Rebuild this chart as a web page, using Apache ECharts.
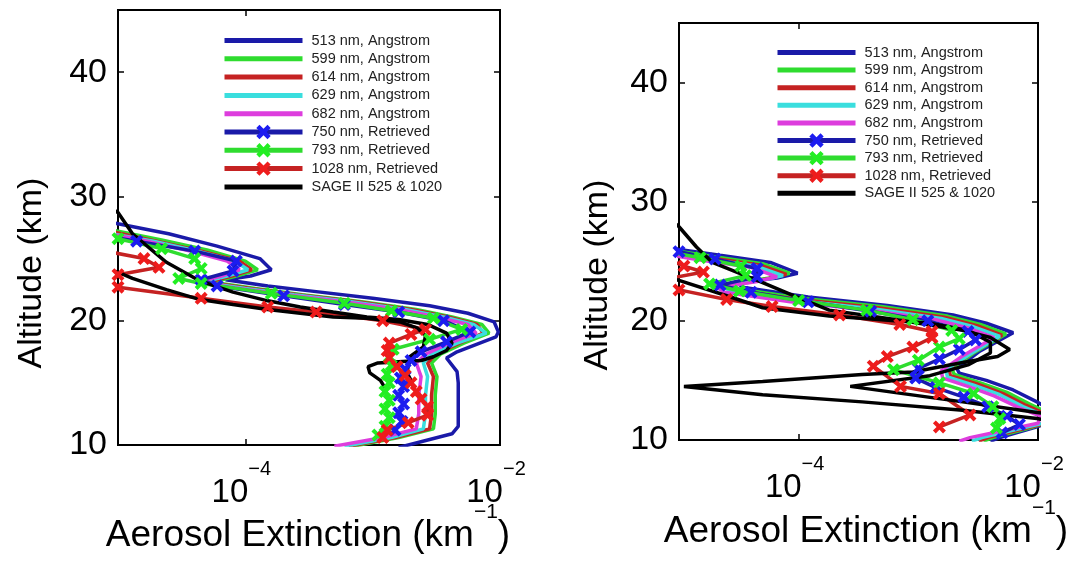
<!DOCTYPE html>
<html>
<head>
<meta charset="utf-8">
<script src="https://cdn.jsdelivr.net/npm/echarts@6/dist/echarts.min.js"></script>
<style>
  html, body { margin: 0; padding: 0; background: #fff; }
  #chart { width: 1072px; height: 565px; }
</style>
</head>
<body>
<div id="chart"></div>
<script>
// Aerosol extinction profiles: [extinction (km^-1), altitude (km)], ordered by altitude.

// ---- Left panel ----
const L513 = [[1.6e-3,9.8],[4.2e-3,10.9],[4.7e-3,11.5],[4.7e-3,13.0],[4.7e-3,15.0],[4.6e-3,15.9],[3.8e-3,17.0],[4.6e-3,17.5],[9.3e-3,18.7],[9.7e-3,19.1],[9.0e-3,19.9],[5.6e-3,20.6],[2.8e-3,21.2],[1.0e-3,21.8],[3.2e-4,22.4],[1.5e-4,22.8],[7.0e-5,23.3],[1.1e-4,23.6],[1.6e-4,24.1],[1.3e-4,25.0],[6.0e-5,26.0],[2.5e-5,27.0],[1.0e-5,27.8],[7e-6,28.1]];
const L599 = [[7.0e-4,9.9],[1.6e-3,10.6],[3.0e-3,11.3],[3.1e-3,12.5],[3.1e-3,14.0],[3.2e-3,15.5],[2.9e-3,16.6],[3.4e-3,17.3],[5.2e-3,18.2],[8.2e-3,19.0],[7.2e-3,19.7],[4.2e-3,20.3],[2.2e-3,20.9],[8.5e-4,21.5],[2.8e-4,22.1],[1.2e-4,22.6],[5.5e-5,23.1],[8.5e-5,23.6],[1.25e-4,24.1],[1.0e-4,24.8],[5.0e-5,25.7],[2.2e-5,26.5],[1.0e-5,27.2],[7e-6,27.5]];
const L614 = [[6.5e-4,9.9],[1.5e-3,10.6],[2.8e-3,11.3],[2.9e-3,12.5],[2.9e-3,14.0],[3.0e-3,15.5],[2.7e-3,16.6],[3.1e-3,17.3],[4.8e-3,18.2],[7.4e-3,19.0],[6.6e-3,19.7],[3.9e-3,20.3],[2.0e-3,20.9],[7.8e-4,21.5],[2.6e-4,22.1],[1.1e-4,22.6],[5.0e-5,23.1],[7.8e-5,23.6],[1.12e-4,24.1],[9.0e-5,24.8],[4.5e-5,25.6],[2.0e-5,26.4],[9.5e-6,27.1]];
const L629 = [[6.0e-4,9.9],[1.4e-3,10.6],[2.5e-3,11.3],[2.6e-3,12.5],[2.6e-3,14.0],[2.7e-3,15.5],[2.5e-3,16.6],[2.9e-3,17.3],[4.6e-3,18.2],[7.8e-3,19.0],[6.2e-3,19.7],[3.6e-3,20.3],[1.8e-3,20.9],[7.0e-4,21.5],[2.4e-4,22.1],[1.0e-4,22.6],[4.6e-5,23.1],[7.2e-5,23.6],[1.05e-4,24.1],[8.3e-5,24.8],[4.2e-5,25.6],[1.9e-5,26.4],[9e-6,27.0]];
const L682 = [[5.0e-4,9.9],[1.2e-3,10.6],[2.2e-3,11.3],[2.3e-3,12.5],[2.3e-3,14.0],[2.4e-3,15.5],[2.2e-3,16.6],[2.6e-3,17.3],[4.0e-3,18.2],[6.5e-3,19.0],[5.6e-3,19.7],[3.2e-3,20.3],[1.6e-3,20.9],[6.2e-4,21.5],[2.1e-4,22.1],[9.0e-5,22.6],[4.2e-5,23.1],[6.5e-5,23.6],[9.0e-5,24.1],[7.2e-5,24.8],[3.7e-5,25.6],[1.7e-5,26.4],[8.5e-6,27.0]];
const L750 = [[1.5e-3,11.2],[1.7e-3,11.9],[1.6e-3,12.6],[1.75e-3,13.3],[1.6e-3,14.0],[1.75e-3,14.7],[1.65e-3,15.4],[1.8e-3,16.1],[2.0e-3,16.8],[2.4e-3,17.5],[3.8e-3,18.3],[5.8e-3,19.1],[3.6e-3,20.0],[1.6e-3,20.7],[6.0e-4,21.3],[2.0e-4,22.0],[6.0e-5,22.8],[4.5e-5,23.3],[8.0e-5,24.0],[8.5e-5,24.8],[4.0e-5,25.6],[1.4e-5,26.4],[8e-6,26.8]];
const L793 = [[1.1e-3,10.8],[1.25e-3,11.5],[1.35e-3,12.2],[1.25e-3,12.9],[1.35e-3,13.6],[1.25e-3,14.3],[1.35e-3,15.0],[1.3e-3,15.7],[1.4e-3,16.4],[1.35e-3,17.1],[1.45e-3,17.7],[2.8e-3,18.5],[5.0e-3,19.3],[3.0e-3,20.2],[1.4e-3,20.8],[6.0e-4,21.4],[1.6e-4,22.2],[4.5e-5,23.0],[3.0e-5,23.4],[4.5e-5,24.2],[4.0e-5,25.0],[2.2e-5,25.8],[1.0e-5,26.6]];
const L1028 = [[1.2e-3,10.6],[1.3e-3,11.2],[1.9e-3,11.8],[2.7e-3,12.4],[2.7e-3,13.1],[2.4e-3,13.7],[2.2e-3,14.3],[2.0e-3,15.0],[1.8e-3,15.6],[1.55e-3,16.3],[1.35e-3,17.0],[1.3e-3,17.6],[1.35e-3,18.2],[2.0e-3,18.9],[2.6e-3,19.3],[1.2e-3,20.0],[3.6e-4,20.7],[1.5e-4,21.1],[4.5e-5,21.8],[1.0e-5,22.7],[6e-6,23.2],[1.0e-5,23.7],[2.1e-5,24.3],[1.6e-5,25.0],[9e-6,25.5]];
const LSageA = [[1.25e-3,14.6],[1.15e-3,15.2],[9.5e-4,15.8],[9.2e-4,16.3],[1.1e-3,16.6],[1.6e-3,16.7],[2.4e-3,16.8],[3.0e-3,17.1],[3.8e-3,17.6],[4.2e-3,18.2],[3.8e-3,19.0],[2.7e-3,19.7],[1.6e-3,20.1],[9.0e-4,20.3],[4.9e-4,20.7],[2.7e-4,21.1],[1.5e-4,21.6],[8.0e-5,22.3],[4.4e-5,23.2],[2.4e-5,24.7],[1.3e-5,27.0],[1.0e-5,28.7],[9e-6,29.0]];
const LSageB = [[2.05e-3,15.0],[1.86e-3,15.8],[1.96e-3,17.1],[2.5e-3,17.9],[2.6e-3,18.8],[2.25e-3,19.4],[1.64e-3,19.9],[9.0e-4,20.2],[4.9e-4,20.3],[2.7e-4,20.6],[1.5e-4,20.9],[8.0e-5,21.3],[4.4e-5,21.7],[2.4e-5,22.5],[1.3e-5,23.4],[1.0e-5,23.9],[8e-6,24.2]];

// ---- Right panel ----
const R513 = [[4.0e-3,9.9],[4.8e-3,10.2],[9.8e-3,11.1],[1.3e-2,11.6],[1.3e-2,12.5],[9.8e-3,13.2],[6.2e-3,14.2],[3.7e-3,15.0],[2.2e-3,15.6],[2.1e-3,16.0],[3.2e-3,17.4],[6.2e-3,19.0],[3.7e-3,19.8],[1.95e-3,20.5],[5.5e-4,21.3],[1.2e-4,22.0],[3.5e-5,22.8],[3.0e-5,23.2],[6.6e-5,23.6],[9.8e-5,24.0],[5.8e-5,24.9],[2.2e-5,25.5],[1.0e-5,26.0],[7e-6,26.3]];
const R599 = [[3.5e-3,9.9],[4.2e-3,10.2],[8.5e-3,11.0],[1.2e-2,11.5],[1.2e-2,12.3],[8.6e-3,13.0],[5.5e-3,14.0],[3.3e-3,14.8],[2.0e-3,15.5],[1.9e-3,16.0],[2.9e-3,17.3],[5.4e-3,18.9],[3.3e-3,19.7],[1.75e-3,20.4],[4.9e-4,21.2],[1.05e-4,21.9],[3.1e-5,22.7],[2.7e-5,23.1],[5.7e-5,23.6],[8.4e-5,24.0],[5.0e-5,24.8],[1.9e-5,25.4],[9e-6,25.9]];
const R614 = [[3.2e-3,9.9],[3.8e-3,10.2],[8.0e-3,11.0],[1.15e-2,11.4],[1.15e-2,12.2],[8.0e-3,12.9],[5.1e-3,13.9],[3.1e-3,14.7],[1.85e-3,15.4],[1.8e-3,16.0],[2.7e-3,17.2],[5.0e-3,18.8],[3.1e-3,19.6],[1.65e-3,20.3],[4.6e-4,21.1],[1.0e-4,21.8],[2.9e-5,22.6],[2.5e-5,23.0],[5.3e-5,23.5],[7.9e-5,23.9],[4.7e-5,24.7],[1.8e-5,25.3],[8.5e-6,25.8]];
const R629 = [[2.8e-3,9.9],[3.4e-3,10.2],[7.4e-3,11.0],[1.1e-2,11.4],[1.1e-2,12.1],[7.5e-3,12.8],[4.8e-3,13.8],[2.9e-3,14.6],[1.75e-3,15.3],[1.7e-3,15.9],[2.6e-3,17.1],[4.8e-3,18.7],[2.9e-3,19.5],[1.55e-3,20.2],[4.3e-4,21.0],[9.5e-5,21.7],[2.7e-5,22.5],[2.3e-5,22.9],[5.0e-5,23.4],[7.4e-5,23.8],[4.4e-5,24.6],[1.7e-5,25.2],[8e-6,25.7]];
const R682 = [[2.2e-3,9.9],[2.7e-3,10.2],[6.5e-3,11.0],[1.0e-2,11.4],[1.05e-2,12.0],[7.0e-3,12.7],[4.3e-3,13.7],[2.6e-3,14.5],[1.6e-3,15.2],[1.55e-3,15.8],[2.3e-3,17.0],[4.3e-3,18.6],[2.6e-3,19.4],[1.4e-3,20.1],[3.9e-4,20.9],[8.5e-5,21.6],[2.4e-5,22.4],[2.1e-5,22.8],[4.5e-5,23.3],[6.6e-5,23.7],[4.0e-5,24.5],[1.5e-5,25.1],[7.5e-6,25.6]];
const R750 = [[5.0e-3,10.6],[7.0e-3,11.3],[5.5e-3,12.0],[3.8e-3,12.8],[2.4e-3,13.6],[1.4e-3,14.4],[9.5e-4,15.2],[1.0e-3,16.0],[1.5e-3,16.8],[2.2e-3,17.6],[3.0e-3,18.4],[2.6e-3,19.1],[1.2e-3,20.0],[4.0e-4,20.8],[1.2e-4,21.6],[4.0e-5,22.4],[2.2e-5,23.0],[4.5e-5,23.7],[4.5e-5,24.4],[2.0e-5,25.2],[1.0e-5,25.8]];
const R793 = [[4.5e-3,11.0],[4.8e-3,11.8],[4.2e-3,12.8],[2.9e-3,13.9],[1.5e-3,14.8],[6.2e-4,15.9],[1.0e-3,16.7],[1.5e-3,17.8],[2.2e-3,18.5],[1.9e-3,19.2],[9.0e-4,20.1],[3.7e-4,20.9],[1.0e-4,21.7],[3.2e-5,22.5],[1.8e-5,23.1],[3.6e-5,23.8],[3.3e-5,24.6],[1.5e-5,25.3],[8e-6,25.8]];
const R1028 = [[1.5e-3,11.1],[2.7e-3,12.1],[1.5e-3,13.9],[7.1e-4,14.5],[4.2e-4,16.2],[5.5e-4,17.0],[9.0e-4,17.8],[1.3e-3,18.6],[1.3e-3,19.1],[7.0e-4,19.7],[2.2e-4,20.5],[6.0e-5,21.2],[2.5e-5,21.8],[1.0e-5,22.6],[6e-6,23.3],[1.6e-5,24.1],[1.1e-5,24.6],[8e-6,25.2]];
const RSageA = [[1.3e-2,11.6],[9.8e-3,11.8],[2.35e-3,12.5],[3.4e-4,13.2],[5.0e-5,13.8],[1.1e-5,14.5],[5.0e-5,14.9],[3.4e-4,15.5],[9.0e-4,15.7],[2.35e-3,16.5],[4.6e-3,17.0],[5.8e-3,17.6],[4.0e-3,18.6],[2.35e-3,19.2],[6.6e-4,20.1],[1.8e-4,20.9],[9.7e-5,22.0],[5.0e-5,23.2],[1.9e-5,24.9],[1.4e-5,26.2],[1.0e-5,27.9],[9e-6,28.3]];
const RSageB = [[1.3e-2,12.2],[9.8e-3,12.3],[2.35e-3,13.2],[2.7e-4,14.5],[1.25e-3,15.4],[2.6e-3,16.3],[4.0e-3,17.3],[4.0e-3,18.2],[2.6e-3,19.2],[1.25e-3,19.8],[1.8e-4,20.4],[5.0e-5,21.1],[2.7e-5,22.0],[1.0e-5,23.4],[7e-6,23.8]];

// ---- Labels ----
const seriesNames = ['513 nm, Angstrom','599 nm, Angstrom','614 nm, Angstrom','629 nm, Angstrom','682 nm, Angstrom','750 nm, Retrieved','793 nm, Retrieved','1028 nm, Retrieved','SAGE II 525 & 1020'];
const altitudeTicks = [10, 20, 30, 40];
const extinctionTicks = [1e-4, 1e-2];
const xTitle = 'Aerosol Extinction (km';
const yTitle = 'Altitude (km)';

const FONT = "'Liberation Sans', Arial, Helvetica, sans-serif";
const X_PATH = 'path://M0,2.2 L2.2,0 L5,2.8 L7.8,0 L10,2.2 L7.2,5 L10,7.8 L7.8,10 L5,7.2 L2.2,10 L0,7.8 L2.8,5 Z';

// name -> [line colour, marker colour or null]
const styles = {
  '513 nm, Angstrom':   ['#1a1aa8', null],
  '599 nm, Angstrom':   ['#2fdc2f', null],
  '614 nm, Angstrom':   ['#c52222', null],
  '629 nm, Angstrom':   ['#3adede', null],
  '682 nm, Angstrom':   ['#dd3ddd', null],
  '750 nm, Retrieved':  ['#1a1aa8', '#1c1cf0'],
  '793 nm, Retrieved':  ['#2fdc2f', '#22ee22'],
  '1028 nm, Retrieved': ['#c52222', '#ee1c1c'],
  'SAGE II 525 & 1020': ['#000000', null]
};

function makeSeries(name, data, gi) {
  const st = styles[name];
  const s = {
    type: 'line', name: name, data: data,
    xAxisIndex: gi * 2, yAxisIndex: gi * 2,
    clip: true, animation: false, silent: true,
    lineStyle: { color: st[0], width: 3.5 },
    itemStyle: { color: st[1] || st[0] },
    emphasis: { disabled: true }
  };
  if (st[1]) {
    s.symbol = X_PATH; s.symbolSize = 13; s.showSymbol = true;
  } else {
    s.symbol = 'none'; s.showSymbol = false;
  }
  return s;
}

const panels = [
  [L513, L599, L614, L629, L682, L750, L793, L1028, LSageA, LSageB],
  [R513, R599, R614, R629, R682, R750, R793, R1028, RSageA, RSageB]
];
const seriesNameOrder = seriesNames.slice(0, 8).concat([seriesNames[8], seriesNames[8]]);

const series = [];
panels.forEach((arrs, gi) => {
  arrs.forEach((d, i) => series.push(makeSeries(seriesNameOrder[i], d, gi)));
});

const grids = [
  { left: 118, top: 10, width: 382, height: 435 },
  { left: 679, top: 23, width: 359, height: 417 }
];

const xAxes = [], yAxes = [];
grids.forEach((g, gi) => {
  const tick = { show: true, inside: true, length: 6, lineStyle: { color: '#000', width: 1.5 } };
  xAxes.push({
    gridIndex: gi, type: 'log', logBase: 10, min: 1e-5, max: 1e-2, position: 'bottom',
    axisLine: { show: false }, splitLine: { show: false },
    axisTick: Object.assign({ customValues: extinctionTicks }, tick),
    axisLabel: {
      customValues: extinctionTicks, margin: 14, padding: [0, 8, 0, 0],
      formatter: v => '{b|10}{s|−' + Math.round(-Math.log10(v)) + '}',
      rich: {
        b: { fontSize: 33, fontFamily: FONT, color: '#000', lineHeight: 50, verticalAlign: 'bottom' },
        s: { fontSize: 20, fontFamily: FONT, color: '#000', lineHeight: 10, verticalAlign: 'top' }
      }
    }
  });
  xAxes.push({
    gridIndex: gi, type: 'log', logBase: 10, min: 1e-5, max: 1e-2, position: 'top',
    axisLine: { show: false }, splitLine: { show: false },
    axisTick: Object.assign({ customValues: extinctionTicks }, tick),
    axisLabel: { show: false }
  });
  yAxes.push({
    gridIndex: gi, type: 'value', min: 10, max: 45, interval: 10, position: 'left',
    axisLine: { show: false }, splitLine: { show: false },
    axisTick: Object.assign({ customValues: altitudeTicks }, tick),
    axisLabel: { customValues: altitudeTicks, fontSize: 34, fontFamily: FONT, color: '#000', margin: 11 }
  });
  yAxes.push({
    gridIndex: gi, type: 'value', min: 10, max: 45, interval: 10, position: 'right',
    axisLine: { show: false }, splitLine: { show: false },
    axisTick: Object.assign({ customValues: altitudeTicks }, tick),
    axisLabel: { show: false }
  });
});

// Plain-line entries hide their marker; retrieved entries keep the cross.
const legendData = seriesNames.map(n => styles[n][1]
  ? { name: n }
  : { name: n, itemStyle: { opacity: 0 } });

function legendAt(left, top, gap) {
  return {
    left: left, top: top, orient: 'vertical', padding: 0,
    itemWidth: 78, itemHeight: 18, itemGap: gap,
    selectedMode: false,
    lineStyle: { width: 5 },
    textStyle: { fontSize: 14.5, fontFamily: FONT, color: '#222', padding: [0, 0, 0, 4] },
    data: legendData
  };
}

function titleX(cx, cy) {
  return {
    type: 'text', x: cx, y: cy,
    style: {
      text: '{a|' + xTitle + '}{s|−1}{a|)}',
      align: 'center', verticalAlign: 'middle',
      rich: {
        a: { fontSize: 37, fontFamily: FONT, fill: '#000', lineHeight: 52, verticalAlign: 'bottom' },
        s: { fontSize: 21, fontFamily: FONT, fill: '#000', lineHeight: 16, verticalAlign: 'top' }
      }
    }
  };
}
function titleY(cx, cy) {
  return {
    type: 'text', x: cx, y: cy, rotation: Math.PI / 2,
    style: { text: yTitle, fontSize: 34, fontFamily: FONT, fill: '#000', align: 'center', verticalAlign: 'middle' }
  };
}

const chart = echarts.init(document.getElementById('chart'), null, { renderer: 'canvas' });
chart.setOption({
  backgroundColor: '#fff',
  animation: false,
  grid: grids.map(g => Object.assign({ show: true, borderColor: '#000', borderWidth: 2, backgroundColor: '#fff' }, g)),
  xAxis: xAxes,
  yAxis: yAxes,
  legend: [legendAt(222, 33, 3.3), legendAt(775, 45, 2.6)],
  series: series,
  graphic: [titleX(308, 528), titleX(866, 524), titleY(32, 273), titleY(598, 275)]
});
</script>
</body>
</html>
